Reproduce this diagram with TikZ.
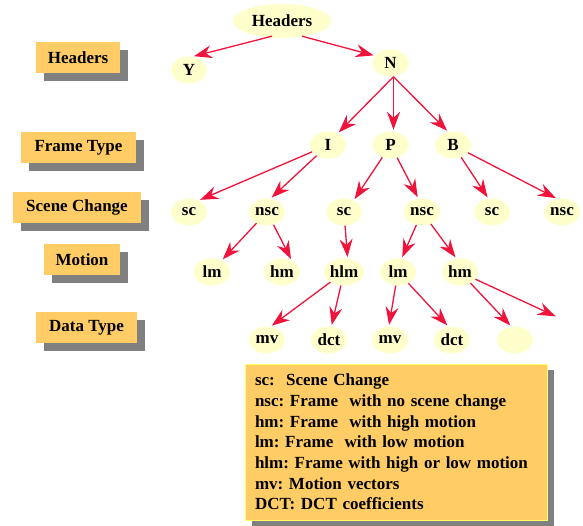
\documentclass[tikz,border=0pt]{standalone}
\usepackage{fontspec}
\setmainfont{Liberation Serif}
\usetikzlibrary{arrows.meta,shapes.geometric,shadows}
\definecolor{edgered}{RGB}{240,20,60}
\definecolor{nodefill}{RGB}{255,255,204}
\definecolor{boxorange}{RGB}{255,204,102}
\definecolor{shadowgray}{RGB}{128,128,128}
\definecolor{legendborder}{RGB}{255,255,102}
\frenchspacing
\begin{document}
\begin{tikzpicture}[x=1pt,y=-1pt,
  font=\fontsize{17}{20.7}\selectfont\bfseries,
  tnode/.style={ellipse, fill=nodefill, minimum width=36pt, minimum height=27pt, inner sep=0pt},
  labelbox/.style={fill=boxorange, minimum height=31pt, inner sep=0pt,
     general shadow={fill=shadowgray, shadow xshift=8pt, shadow yshift=-8pt}},
  edge/.style={draw=edgered, line width=1.3pt, -{Stealth[length=18pt,width=13pt,inset=6pt]}, shorten >=1.5pt}
]
\useasboundingbox (0,0) rectangle (583,525);

% left labels
\node[labelbox, minimum width=84pt]  (lHeaders) at (78,57.5)   {Headers};
\node[labelbox, minimum width=115pt] (lFrame)   at (78.5,147.5) {Frame Type};
\node[labelbox, minimum width=128pt] (lScene)   at (77,207.5)  {Scene Change};
\node[labelbox, minimum width=76pt]  (lMotion)  at (82,259.5)  {Motion};
\node[labelbox, minimum width=101pt] (lData)    at (86.5,327.5) {Data Type};

% tree nodes
\node[tnode, minimum width=98pt, minimum height=34pt] (H) at (282,21) {Headers};
\node[tnode] (Y) at (189,70) {Y};
\node[tnode] (N) at (390.5,63) {N};
\node[tnode] (I) at (328,145) {I};
\node[tnode] (P) at (390.5,145) {P};
\node[tnode] (B) at (453,145) {B};
\node[tnode] (sc1) at (189,212) {sc};
\node[tnode] (nsc1) at (267,212) {nsc};
\node[tnode] (sc2) at (344,212) {sc};
\node[tnode] (nsc2) at (422,212) {nsc};
\node[tnode] (sc3) at (492,212) {sc};
\node[tnode] (nsc3) at (562,212) {nsc};
\node[tnode] (lm1) at (212,272) {lm};
\node[tnode] (hm1) at (282,272) {hm};
\node[tnode] (hlm) at (344,272) {hlm};
\node[tnode] (lm2) at (398,272) {lm};
\node[tnode] (hm2) at (460,272) {hm};
\node[tnode] (mv1) at (267,340) {mv};
\node[tnode] (dct1) at (329,340) {dct};
\node[tnode] (mv2) at (390,340) {mv};
\node[tnode] (dct2) at (452,340) {dct};
\node[tnode] (e) at (515,340) {};
\coordinate (fe) at (557,317);

% edges
\draw[edge] ([xshift=-10pt,yshift=2pt]H.south) -- (Y.75);
\draw[edge] ([xshift=20pt,yshift=2pt]H.south) -- (N.155);
\draw[edge] ([xshift=3pt]N.south) -- (I.50);
\draw[edge] ([xshift=3pt]N.south) -- ([xshift=3pt]P.north);
\draw[edge] ([xshift=3pt]N.south) -- (B.110);
\draw[edge] (I) -- (sc1.50);
\draw[edge] (I) -- (nsc1.75);
\draw[edge] (P) -- (sc2.50);
\draw[edge] (P) -- (nsc2.105);
\draw[edge] (B) -- (sc3.105);
\draw[edge] (B) -- (nsc3.110);
\draw[edge] (nsc1) -- (lm1.50);
\draw[edge] (nsc1) -- (hm1.50);
\draw[edge] (sc2) -- (hlm.75);
\draw[edge] (nsc2) -- (lm2.75);
\draw[edge] (nsc2) -- (hm2.105);
\draw[edge] (hlm) -- (mv1.75);
\draw[edge] (hlm) -- (dct1.80);
\draw[edge] (lm2) -- (mv2.95);
\draw[edge] (lm2) -- (dct2.105);
\draw[edge] (hm2) -- (e.105);
\draw[edge] (hm2) -- (fe);

% legend
\node[fill=boxorange, draw=legendborder, line width=0.8pt, minimum width=302pt, minimum height=156pt,
      text width=282pt, align=left, inner xsep=10pt, inner ysep=0pt,
      general shadow={fill=shadowgray, shadow xshift=7pt, shadow yshift=-6pt}] (legend) at (396,442)
  {sc:\ \ Scene Change\\
   nsc: Frame\ \ with no scene change\\
   hm: Frame\ \ with high motion\\
   lm: Frame\ \ with low motion\\
   hlm: Frame with high or low motion\\
   mv: Motion vectors\\
   DCT: DCT coefficients};
\end{tikzpicture}
\end{document}
